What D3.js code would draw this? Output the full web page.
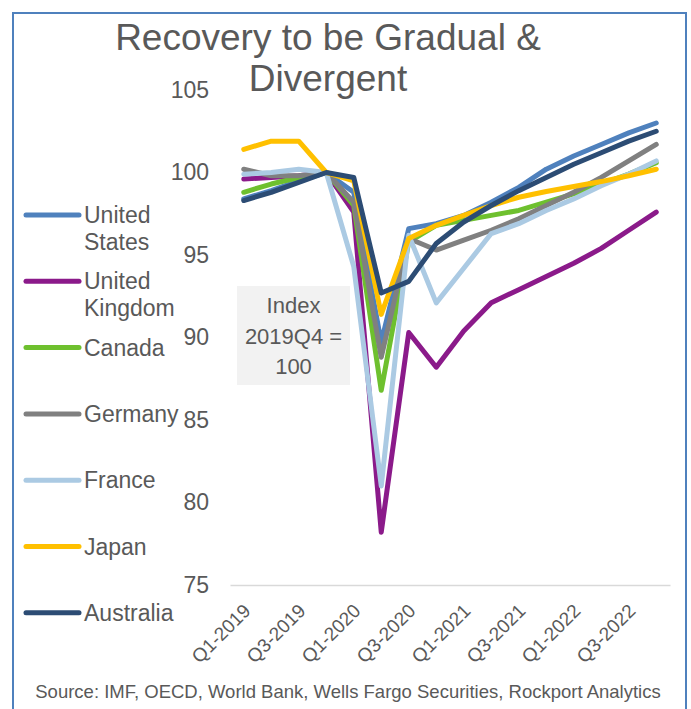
<!DOCTYPE html>
<html>
<head>
<meta charset="utf-8">
<script src="https://cdn.jsdelivr.net/npm/d3@7"></script>
<style>
  html, body { margin: 0; padding: 0; background: #fff; }
  svg { display: block; font-family: "Liberation Sans", Arial, sans-serif; }
</style>
</head>
<body>
<svg id="chart" width="691" height="709"></svg>
<script>
// Quarterly GDP index, 2019Q4 = 100
const quarters = [
  "Q1-2019", "Q2-2019", "Q3-2019", "Q4-2019",
  "Q1-2020", "Q2-2020", "Q3-2020", "Q4-2020",
  "Q1-2021", "Q2-2021", "Q3-2021", "Q4-2021",
  "Q1-2022", "Q2-2022", "Q3-2022", "Q4-2022"
];
const unitedStates  = [98.4, 98.9, 99.5, 100, 98.8, 89.7, 96.6, 96.9, 97.4, 98.2, 99.1, 100.2, 101.0, 101.7, 102.4, 103.0];
const unitedKingdom = [99.6, 99.7, 99.8, 100, 97.6, 78.2, 90.3, 88.2, 90.4, 92.1, 92.9, 93.7, 94.5, 95.4, 96.5, 97.6];
const canada        = [98.8, 99.3, 99.7, 100, 98.0, 86.8, 95.8, 96.8, 97.1, 97.4, 97.7, 98.2, 98.7, 99.3, 99.9, 100.6];
const germany       = [100.2, 99.8, 99.8, 100, 98.2, 88.8, 96.0, 95.3, 95.9, 96.5, 97.2, 98.0, 98.8, 99.7, 100.7, 101.7];
const france        = [99.9, 100.0, 100.2, 100, 94.3, 81.0, 96.2, 92.1, 94.2, 96.3, 96.9, 97.7, 98.4, 99.2, 99.9, 100.7];
const japan         = [101.4, 101.9, 101.9, 100, 99.5, 91.4, 96.0, 96.8, 97.4, 98.0, 98.5, 98.85, 99.15, 99.45, 99.8, 100.2];
const australia     = [98.3, 98.8, 99.4, 100, 99.7, 92.7, 93.4, 95.7, 97.0, 98.0, 98.9, 99.7, 100.5, 101.2, 101.9, 102.5];

const countryNames  = [["United", "States"], ["United", "Kingdom"], ["Canada"], ["Germany"], ["France"], ["Japan"], ["Australia"]];
const countryColors = ["#4F81BD", "#8B1A8A", "#6EC02E", "#808080", "#ABCAE3", "#FFC000", "#2C4C74"];
const yTicks = [75, 80, 85, 90, 95, 100, 105];
const xTickLabels = quarters.filter((q, i) => i % 2 === 0);
const titleLines = ["Recovery to be Gradual &", "Divergent"];
const noteLines = ["Index", "2019Q4 =", "100"];
const sourceText = "Source: IMF, OECD, World Bank, Wells Fargo Securities, Rockport Analytics";

const series = [unitedStates, unitedKingdom, canada, germany, france, japan, australia]
  .map((values, i) => ({ name: countryNames[i], color: countryColors[i], values }));

const svg = d3.select("#chart");
const textColor = "#595959";

// outer frame
svg.append("rect")
  .attr("x", 13).attr("y", 13)
  .attr("width", 673).attr("height", 710)
  .attr("fill", "none")
  .attr("stroke", "#4F81BD")
  .attr("stroke-width", 2);

// title
svg.append("text")
  .attr("x", 328).attr("y", 50)
  .attr("text-anchor", "middle")
  .attr("fill", textColor)
  .attr("font-size", 37)
  .selectAll("tspan").data(titleLines).join("tspan")
  .attr("x", 328)
  .attr("dy", (d, i) => i === 0 ? 0 : 41)
  .text(d => d);

const x = d3.scaleBand().domain(quarters).range([230, 670]).padding(0);
const y = d3.scaleLinear().domain([75, 105]).range([585, 90]);
const cx = q => x(q) + x.bandwidth() / 2;

// y axis labels (no axis line)
const yAxis = svg.append("g")
  .attr("transform", "translate(209,0)")
  .call(d3.axisLeft(y).tickValues(yTicks).tickSize(0).tickPadding(0));
yAxis.select(".domain").remove();
yAxis.selectAll("text")
  .attr("fill", textColor)
  .attr("font-size", 23)
  .attr("font-family", "Liberation Sans, Arial, sans-serif");

// category axis baseline
const xAxis = svg.append("g")
  .attr("transform", `translate(0,${y(75)})`)
  .call(d3.axisBottom(x).tickValues(xTickLabels).tickSize(0).tickFormat(""));
xAxis.select(".domain").attr("stroke", "#D9D9D9").attr("stroke-width", 1.5);

// rotated quarter labels
svg.append("g").selectAll("text")
  .data(xTickLabels).join("text")
  .attr("transform", d => `translate(${cx(d) + 8},${y(75) + 27}) rotate(-45)`)
  .attr("text-anchor", "end")
  .attr("fill", textColor)
  .attr("font-size", 19)
  .text(d => d);

// annotation box
svg.append("rect")
  .attr("x", 237).attr("y", 286)
  .attr("width", 113).attr("height", 99)
  .attr("fill", "#F2F2F2");
svg.append("g").selectAll("text")
  .data(noteLines).join("text")
  .attr("x", 293.5)
  .attr("y", (d, i) => 313 + i * 30.5)
  .attr("text-anchor", "middle")
  .attr("fill", textColor)
  .attr("font-size", 22)
  .text(d => d);

// series lines
const line = d3.line()
  .x((d, i) => cx(quarters[i]))
  .y(d => y(d));

svg.append("g").selectAll("path")
  .data(series).join("path")
  .attr("d", d => line(d.values))
  .attr("fill", "none")
  .attr("stroke", d => d.color)
  .attr("stroke-width", 5)
  .attr("stroke-linejoin", "round")
  .attr("stroke-linecap", "round");

// legend
const legend = svg.append("g").selectAll("g")
  .data(series).join("g")
  .attr("transform", (d, i) => `translate(0,${215 + i * 66.3})`);
legend.append("line")
  .attr("x1", 26).attr("x2", 79)
  .attr("stroke", d => d.color)
  .attr("stroke-width", 5)
  .attr("stroke-linecap", "round");
legend.append("text")
  .attr("fill", textColor)
  .attr("font-size", 23)
  .selectAll("tspan").data(d => d.name).join("tspan")
  .attr("x", 84)
  .attr("y", (d, i) => 8 + i * 27)
  .text(d => d);

// source note
svg.append("text")
  .attr("x", 348).attr("y", 698)
  .attr("text-anchor", "middle")
  .attr("fill", textColor)
  .attr("font-size", 18.5)
  .text(sourceText);
</script>
</body>
</html>
